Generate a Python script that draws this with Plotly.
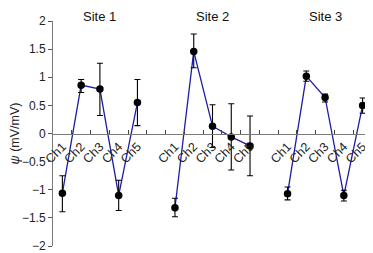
import plotly.graph_objects as go

sites = ["Site 1", "Site 2", "Site 3"]
channels = ["Ch1", "Ch2", "Ch3", "Ch4", "Ch5"]

psi = [
    [-1.06, 0.86, 0.79, -1.10, 0.55],
    [-1.32, 1.46, 0.13, -0.06, -0.22],
    [-1.07, 1.02, 0.64, -1.10, 0.50],
]
err_hi = [
    [0.31, 0.10, 0.46, 0.27, 0.41],
    [0.17, 0.31, 0.38, 0.59, 0.53],
    [0.12, 0.09, 0.06, 0.09, 0.13],
]
err_lo = [
    [0.33, 0.13, 0.47, 0.27, 0.41],
    [0.16, 0.29, 0.38, 0.59, 0.53],
    [0.11, 0.09, 0.08, 0.10, 0.14],
]

W, H = 365, 245
ML, MR, MT, MB = 45, 1, 13, 7

fig = go.Figure()
tickvals, ticktext = [], []
for i, site in enumerate(sites):
    xs = [6 * i + k + 1 for k in range(len(channels))]
    tickvals += xs
    ticktext += channels
    fig.add_trace(go.Scatter(
        x=xs, y=psi[i], mode="lines",
        line=dict(color="#1c1ca8", width=1.3),
        showlegend=False, hoverinfo="skip"))
    fig.add_trace(go.Scatter(
        x=xs, y=psi[i], mode="markers",
        marker=dict(color="black", size=7.5),
        error_y=dict(type="data", symmetric=False, array=err_hi[i],
                     arrayminus=err_lo[i], color="black", thickness=1.1, width=3),
        showlegend=False))
    fig.add_annotation(x=xs[2], y=1 + MT / (H - MT - MB), xref="x", yref="paper",
                       yanchor="top", text=site, showarrow=False, borderpad=0,
                       font=dict(size=13, color="#111111"))

minor_vals = [v + 0.5 for v in range(1, 17)]

fig.update_layout(
    width=W, height=H,
    margin=dict(l=ML, r=MR, t=MT, b=MB),
    paper_bgcolor="white", plot_bgcolor="white",
    font=dict(family="Liberation Sans, Arial, sans-serif", size=12, color="#222222"),
    xaxis=dict(
        range=[0.5, 17.5], anchor="free", position=0.5, automargin=False,
        tickmode="array", tickvals=tickvals, ticktext=ticktext,
        tickangle=-45, ticks="", showgrid=False, zeroline=False,
        showline=True, linecolor="#7a7a7a", linewidth=1,
        tickfont=dict(size=12.5, color="#222222"), ticklabeloverflow="allow",
        minor=dict(tickmode="array", tickvals=minor_vals, ticks="inside",
                   ticklen=4, tickcolor="#444444", showgrid=False),
    ),
    yaxis=dict(
        range=[-2, 2], tickmode="array", automargin=False,
        tickvals=[-2, -1.5, -1, -0.5, 0, 0.5, 1, 1.5, 2],
        ticktext=["\u22122", "\u22121.5", "\u22121", "\u22120.5", "0", "0.5", "1", "1.5", "2"],
        ticks="outside", ticklen=4, tickcolor="#555555", ticklabeloverflow="allow",
        tickfont=dict(size=12, color="#222222"),
        showline=True, linecolor="#7a7a7a", linewidth=1,
        showgrid=False, zeroline=False,
        title=dict(text="<i>\u03c8</i> (mV/mV)", standoff=3, font=dict(size=12.5)),
    ),
)

fig.write_html("out.html")
